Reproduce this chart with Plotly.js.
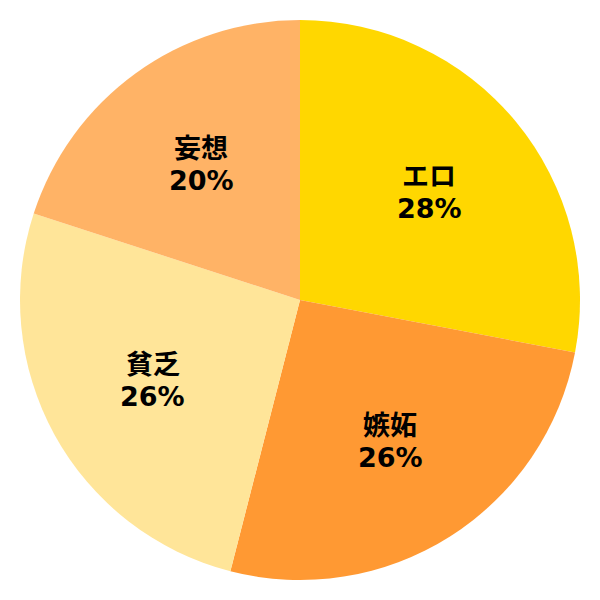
<!DOCTYPE html>
<html>
<head>
<meta charset="utf-8">
<script src="https://cdn.plot.ly/plotly-3.0.1.min.js"></script>
<style>
  html, body { margin: 0; padding: 0; background: #fff; }
  #chart { width: 600px; height: 600px; }
</style>
</head>
<body>
<div id="chart"></div>
<script>
const labels = ['エロ', '嫉妬', '貧乏', '妄想'];
const shares = [28, 26, 26, 20];
const colors = ['#FFD700', '#FF9933', '#FFE599', '#FFB366'];

const total = shares.reduce((a, b) => a + b, 0);
const labelDist = 0.6; // 半径に対するラベル位置
const lineGap = 16;    // 2行の間隔の半分(px)
const font = { family: 'DejaVu Sans, Noto Sans CJK JP', size: 27, color: '#000', weight: 'bold' };

// ラベルは各扇形の中央角に置く（名前と%を別々に）
let cum = 0;
const annotations = [];
shares.forEach((v, i) => {
    const mid = (cum + v / 2) / total * 2 * Math.PI;
    cum += v;
    const x = 0.5 + 0.5 * labelDist * Math.sin(mid);
    const y = 0.5 + 0.5 * labelDist * Math.cos(mid);
    const base = {
        x: x, y: y, xref: 'paper', yref: 'paper',
        xanchor: 'center', yanchor: 'middle',
        showarrow: false, font: font
    };
    annotations.push({ ...base, text: labels[i], yshift: lineGap });
    annotations.push({ ...base, text: Math.round(v / total * 100) + '%', yshift: -lineGap });
});

const trace = {
    type: 'pie',
    labels: labels,
    values: shares,
    sort: false,
    direction: 'clockwise',
    rotation: 0,
    marker: { colors: colors, line: { width: 0 } },
    textinfo: 'none',
    hoverinfo: 'none',
    domain: { x: [0, 1], y: [0, 1] }
};

const layout = {
    width: 600,
    height: 600,
    margin: { l: 20, r: 20, t: 20, b: 20 },
    showlegend: false,
    paper_bgcolor: '#fff',
    annotations: annotations
};

Plotly.newPlot('chart', [trace], layout, { staticPlot: true });
</script>
</body>
</html>
